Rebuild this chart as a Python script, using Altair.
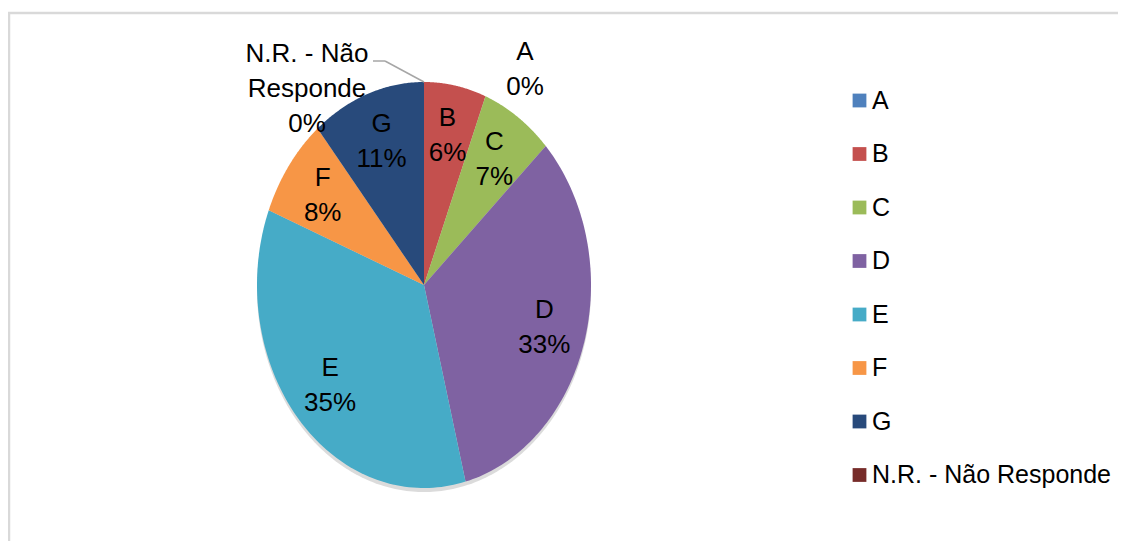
import textwrap
import altair as alt
import pandas as pd

categories = ["A", "B", "C", "D", "E", "F", "G", "N.R. - Não Responde"]
percentages = [0, 6, 7, 33, 35, 8, 11, 0]
colors = ["#4F81BD", "#C4504E", "#9BBB59", "#7F62A2", "#46ABC7", "#F79646", "#284A7B", "#772C2A"]

df = pd.DataFrame({
    "cat": categories,
    "value": percentages,
    "order": list(range(len(categories))),
    "wrapped": [textwrap.fill(c, 11) for c in categories],
})

FONT = "Liberation Sans"
N = 90
W, H = 1110, 533
LH = 35

xscale = alt.Scale(domain=[-1, 1], range=[249, 583])
yscale = alt.Scale(domain=[-1, 1], range=[480, 74])

base = alt.Chart(df).transform_joinaggregate(
    total="sum(value)"
).transform_window(
    cum="sum(value)", sort=[alt.SortField(field="order", order="ascending")], frame=[None, 0]
).transform_calculate(
    start="2*PI*(datum.cum - datum.value)/datum.total",
    end="2*PI*datum.cum/datum.total",
).transform_calculate(
    mid="(datum.start + datum.end)/2"
)

color_enc = alt.Color(
    "cat:N",
    scale=alt.Scale(domain=categories, range=colors),
    legend=alt.Legend(
        orient="none", legendX=839, legendY=80, title=None,
        symbolType="square", symbolSize=190, symbolStrokeWidth=0,
        labelFontSize=25, labelFont=FONT, labelColor="black",
        labelLimit=500, rowPadding=27.5, labelOffset=0, padding=0,
    ),
)

slices = base.transform_calculate(
    k=f"sequence(-1, {N + 1})"
).transform_flatten(["k"]).transform_calculate(
    theta=f"datum.start + (datum.end - datum.start) * max(datum.k, 0) / {N}",
    px="datum.k < 0 ? 0 : sin(datum.theta)",
    py="datum.k < 0 ? 0 : cos(datum.theta)",
).mark_line(filled=True, interpolate="linear").encode(
    x=alt.X("px:Q", scale=xscale, axis=None),
    y=alt.Y("py:Q", scale=yscale, axis=None),
    color=color_enc,
    order=alt.Order("k:Q"),
    detail="cat:N",
)

shadow = alt.Chart(pd.DataFrame({"s": [0]})).transform_calculate(
    k=f"sequence(0, {4 * N + 1})"
).transform_flatten(["k"]).transform_calculate(
    px=f"sin(2*PI*datum.k/{4 * N})",
    py=f"cos(2*PI*datum.k/{4 * N})",
).mark_line(filled=True, color="#000000", opacity=0.14, yOffset=4).encode(
    x=alt.X("px:Q", scale=xscale, axis=None),
    y=alt.Y("py:Q", scale=yscale, axis=None),
    order=alt.Order("k:Q"),
)

label_common = dict(lineBreak="\n", fontSize=26, lineHeight=LH, font=FONT,
                    color="black", baseline="middle", align="center")

inside = base.transform_filter("datum.value > 0").transform_calculate(
    lx="0.75*sin(datum.mid)",
    ly="0.75*cos(datum.mid)",
    label="datum.wrapped + '\\n' + round(100*datum.value/datum.total) + '%'",
).mark_text(dy=-LH / 2, **label_common).encode(
    x=alt.X("lx:Q", scale=xscale, axis=None),
    y=alt.Y("ly:Q", scale=yscale, axis=None),
    text="label:N",
)

outer = base.transform_filter("datum.value == 0").transform_calculate(
    ax="sin(datum.mid)",
    ay="cos(datum.mid)",
    label="datum.wrapped + '\\n' + round(100*datum.value/datum.total) + '%'",
)

out_a = outer.transform_filter("datum.order == 0").mark_text(
    dx=101, dy=-13 - LH / 2, **label_common
).encode(
    x=alt.X("ax:Q", scale=xscale, axis=None),
    y=alt.Y("ay:Q", scale=yscale, axis=None),
    text="label:N",
)

out_nr = outer.transform_filter(f"datum.order == {len(categories) - 1}").mark_text(
    dx=-117, dy=7 - LH, **label_common
).encode(
    x=alt.X("ax:Q", scale=xscale, axis=None),
    y=alt.Y("ay:Q", scale=yscale, axis=None),
    text="label:N",
)

leader1 = outer.transform_filter(f"datum.order == {len(categories) - 1}").mark_rule(
    color="#a6a6a6", strokeWidth=1.5, x2Offset=-39, y2Offset=-21
).encode(
    x=alt.X("ax:Q", scale=xscale, axis=None),
    y=alt.Y("ay:Q", scale=yscale, axis=None),
    x2="ax:Q",
    y2="ay:Q",
)

leader2 = outer.transform_filter(f"datum.order == {len(categories) - 1}").mark_rule(
    color="#a6a6a6", strokeWidth=1.5, xOffset=-39, yOffset=-21, x2Offset=-51, y2Offset=-21
).encode(
    x=alt.X("ax:Q", scale=xscale, axis=None),
    y=alt.Y("ay:Q", scale=yscale, axis=None),
    x2="ax:Q",
    y2="ay:Q",
)

frame_df = pd.DataFrame({"f": [0]})
top_border = alt.Chart(frame_df).mark_rule(color="#d9d9d9", strokeWidth=2.5).encode(
    x=alt.value(0), x2=alt.value(W), y=alt.value(5)
)
left_border = alt.Chart(frame_df).mark_rule(color="#d9d9d9", strokeWidth=2.5).encode(
    x=alt.value(1), y=alt.value(4), y2=alt.value(H)
)

chart = alt.layer(
    top_border, left_border, shadow, slices, leader1, leader2, inside, out_a, out_nr
).properties(
    width=W, height=H, autosize=alt.AutoSizeParams(type="none"), padding=0,
    background="white",
).configure_view(stroke=None)

chart.save("out.html", embed_options={"renderer": "svg", "actions": False})
